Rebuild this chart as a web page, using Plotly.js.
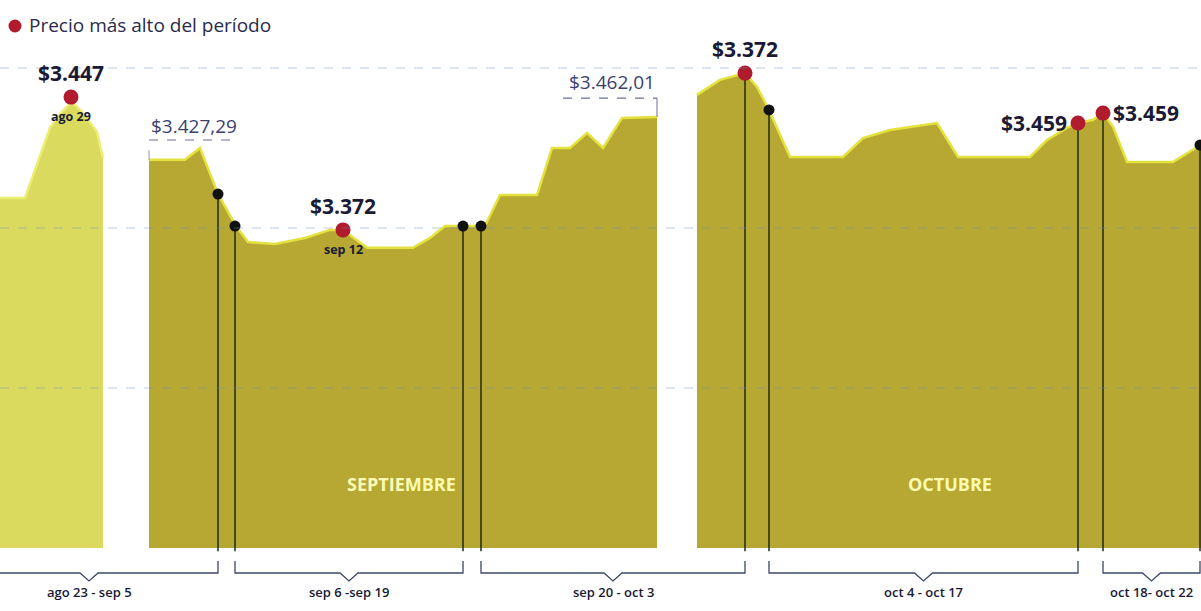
<!DOCTYPE html>
<html>
<head>
<meta charset="utf-8">
<script src="https://cdn.plot.ly/plotly-3.0.1.min.js"></script>
<style>
  html, body { margin: 0; padding: 0; background: #ffffff; }
  #chart { width: 1201px; height: 611px; }
</style>
</head>
<body>
<div id="chart"></div>
<script>
// ---------------- DATOS ----------------
// Posición horizontal (escala del gráfico) y precio (pesos) de cada tramo
const tramo1X = [0, 25, 50, 62, 72, 82, 97, 103];
const tramo1Precio = [3409.4, 3409.4, 3431.3, 3436.3, 3439.4, 3436.3, 3430.0, 3421.9];

const tramo2X = [149, 185, 200, 218, 236, 248, 275, 305, 330, 343, 367, 413, 430, 445, 463, 485, 500, 537, 552, 570, 587, 603, 622, 657];
const tramo2Precio = [3421.3, 3421.3, 3425.0, 3410.6, 3400.6, 3395.6, 3395.0, 3396.9, 3399.4, 3399.4, 3393.8, 3393.8, 3396.9, 3400.6, 3400.6, 3400.6, 3410.3, 3410.3, 3425.0, 3425.0, 3429.7, 3425.0, 3434.4, 3434.7];

const tramo3X = [697, 720, 745, 757, 769, 790, 843, 863, 890, 937, 958, 1030, 1047, 1067, 1078, 1093, 1103, 1113, 1127, 1173, 1201];
const tramo3Precio = [3441.6, 3446.3, 3448.4, 3444.1, 3436.9, 3422.2, 3422.2, 3428.1, 3430.6, 3432.8, 3422.2, 3422.2, 3427.5, 3431.3, 3432.8, 3433.8, 3435.9, 3431.6, 3420.6, 3420.6, 3426.0];

// Precio más alto del período
const maxX = [71, 343, 745, 1078, 1103];
const maxPrecio = [3440.9, 3399.4, 3448.4, 3432.8, 3435.9];
const maxTexto = ['$3.447', '$3.372', '$3.372', '$3.459', '$3.459'];
const maxFecha = ['ago 29', 'sep 12', '', '', ''];

// Períodos (inicio y fin) y precio en cada corte
const periodos = ['ago 23 - sep 5', 'sep 6 -sep 19', 'sep 20 - oct 3', 'oct 4 - oct 17', 'oct 18- oct 22'];
const periodoInicio = [-40, 235, 481, 769, 1103];
const periodoFin = [218, 463, 745, 1078, 1200];
const precioInicio = [null, 3400.6, 3400.6, 3436.9, 3435.9];
const precioFin = [3410.6, 3400.6, 3448.4, 3432.8, 3425.9];

// Referencias de precio
const refTexto = ['$3.427,29', '$3.462,01'];
const refX = [149, 657];
const refPrecio = [3427.5, 3440.6];

const meses = ['SEPTIEMBRE', 'OCTUBRE'];
const mesX = [401, 950];

const BASE = 3300;

// ---------------- ESTILO ----------------
const colorClaro = '#dadb5e';
const bordeClaro = '#ecee72';
const colorOliva = '#b6a833';
const bordeOliva = '#e4e23c';
const tinta = '#1a1a34';
const fuente = 'Open Sans, Noto Sans, sans-serif';

const traces = [];
function tramo(xs, ys, fill, edge) {
  traces.push({
    x: [xs[0], xs[xs.length - 1]], y: [BASE, BASE],
    mode: 'lines', line: { width: 0, color: fill }, hoverinfo: 'skip', showlegend: false
  });
  traces.push({
    x: xs, y: ys, mode: 'lines', fill: 'tonexty', fillcolor: fill,
    line: { color: edge, width: 2.5 }, hoverinfo: 'x+y', showlegend: false
  });
}
tramo(tramo1X, tramo1Precio, colorClaro, bordeClaro);
tramo(tramo2X, tramo2Precio, colorOliva, bordeOliva);
tramo(tramo3X, tramo3Precio, colorOliva, bordeOliva);

// Cortes de período (astas + puntos negros)
const corteX = [], cortePrecio = [];
periodos.forEach((p, i) => {
  if (precioInicio[i] !== null) { corteX.push(periodoInicio[i]); cortePrecio.push(precioInicio[i]); }
  corteX.push(periodoFin[i]); cortePrecio.push(precioFin[i]);
});
const astaX = [], astaY = [];
corteX.forEach((x, i) => { astaX.push(x, x, null); astaY.push(cortePrecio[i], BASE - 1, null); });
traces.push({
  x: astaX, y: astaY, mode: 'lines', line: { color: '#1d2a1d', width: 1.5 },
  hoverinfo: 'skip', showlegend: false
});
traces.push({
  x: corteX, y: cortePrecio, mode: 'markers',
  marker: { color: '#111111', size: 11 }, hoverinfo: 'x+y', showlegend: false
});
traces.push({
  x: maxX, y: maxPrecio, mode: 'markers', name: 'Precio más alto del período',
  marker: { color: '#b01c2e', size: 15 }, text: maxTexto, hoverinfo: 'text', showlegend: false
});

// ---------------- ANOTACIONES ----------------
const annotations = [];
const shapes = [];
const ubicacion = ['arriba', 'arriba', 'arriba', 'izquierda', 'derecha'];
maxX.forEach((x, i) => {
  const a = { x: x, y: maxPrecio[i], xref: 'x', yref: 'y', text: maxTexto[i], showarrow: false,
    font: { family: fuente, size: 21, color: tinta, weight: 700 } };
  if (ubicacion[i] === 'arriba') { a.yanchor = 'bottom'; a.yshift = 8; }
  else if (ubicacion[i] === 'izquierda') { a.xanchor = 'right'; a.xshift = -9; a.yanchor = 'middle'; }
  else { a.xanchor = 'left'; a.xshift = 8; a.yanchor = 'middle'; }
  annotations.push(a);
  if (maxFecha[i]) {
    annotations.push({ x: x, y: maxPrecio[i], xref: 'x', yref: 'y', text: maxFecha[i], showarrow: false,
      yanchor: 'top', yshift: -9, font: { family: fuente, size: 12.5, color: tinta, weight: 700 } });
  }
});

// Referencias con línea discontinua
annotations.push({ x: refX[0], y: refPrecio[0], xref: 'x', yref: 'y', text: refTexto[0], showarrow: false,
  xanchor: 'left', yanchor: 'bottom', yshift: -1, font: { family: fuente, size: 19, color: '#3a3f6c' } });
annotations.push({ x: refX[1], y: refPrecio[1], xref: 'x', yref: 'y', text: refTexto[1], showarrow: false,
  xanchor: 'right', yanchor: 'bottom', yshift: 1, font: { family: fuente, size: 19, color: '#3a3f6c' } });
shapes.push({ type: 'line', xref: 'x', yref: 'y', x0: refX[0], x1: refX[0] + 90, y0: refPrecio[0], y1: refPrecio[0],
  line: { color: '#6a7396', width: 1.2, dash: 'dash' } });
shapes.push({ type: 'line', xref: 'x', yref: 'y', x0: refX[0], x1: refX[0], y0: tramo2Precio[0], y1: tramo2Precio[0] + 3,
  line: { color: '#8a93b0', width: 1 } });
shapes.push({ type: 'line', xref: 'x', yref: 'y', x0: refX[1] - 94, x1: refX[1], y0: refPrecio[1], y1: refPrecio[1],
  line: { color: '#6a7396', width: 1.2, dash: 'dash' } });
shapes.push({ type: 'line', xref: 'x', yref: 'y', x0: refX[1], x1: refX[1], y0: refPrecio[1], y1: tramo2Precio[tramo2Precio.length - 1],
  line: { color: '#6a7396', width: 1 } });

// Meses
meses.forEach((m, i) => {
  annotations.push({ x: mesX[i], y: 3320, xref: 'x', yref: 'y', text: m, showarrow: false,
    font: { family: fuente, size: 18, color: '#fbfbb4', weight: 700 } });
});

// Llaves de períodos
const yTick = 1 - 561 / 611, yLine = 1 - 573 / 611, yApex = 1 - 581 / 611;
periodos.forEach((p, i) => {
  const x0 = periodoInicio[i], x1 = periodoFin[i], c = (x0 + x1) / 2;
  shapes.push({ type: 'path', xref: 'x', yref: 'paper',
    path: `M ${x0},${yTick} L ${x0},${yLine} L ${c - 9},${yLine} L ${c},${yApex} L ${c + 9},${yLine} L ${x1},${yLine} L ${x1},${yTick}`,
    line: { color: '#3c4868', width: 1.3 } });
  annotations.push({ x: c, y: 1 - 592 / 611, xref: 'x', yref: 'paper', text: p, showarrow: false,
    yanchor: 'middle', font: { family: fuente, size: 13, color: tinta, weight: 600 } });
});

// Líneas de referencia (cuadrícula)
[3450, 3400, 3350].forEach(v => {
  shapes.push({ type: 'line', xref: 'paper', yref: 'y', x0: 0, x1: 1, y0: v, y1: v, layer: 'above',
    line: { color: 'rgba(110,140,175,0.45)', width: 1, dash: 'dash' } });
});

// Leyenda
shapes.push({ type: 'circle', xref: 'paper', yref: 'paper', xsizemode: 'pixel', ysizemode: 'pixel',
  xanchor: 15 / 1201, yanchor: 1 - 26 / 611, x0: -6.5, x1: 6.5, y0: -6.5, y1: 6.5,
  fillcolor: '#b01c2e', line: { width: 0 } });
annotations.push({ x: 27 / 1201, y: 1 - 25 / 611, xref: 'paper', yref: 'paper', text: 'Precio más alto del período',
  showarrow: false, xanchor: 'left', yanchor: 'middle', font: { family: fuente, size: 19, color: '#2a2b48' } });

const layout = {
  width: 1201, height: 611,
  margin: { l: 0, r: 0, t: 0, b: 0 },
  paper_bgcolor: '#ffffff', plot_bgcolor: '#ffffff',
  showlegend: false,
  xaxis: { range: [0, 1201], visible: false, fixedrange: true },
  yaxis: { range: [3280.3125, 3471.25], visible: false, fixedrange: true },
  annotations: annotations,
  shapes: shapes,
  hovermode: 'closest'
};

Plotly.newPlot('chart', traces, layout, { displayModeBar: false });
</script>
</body>
</html>
